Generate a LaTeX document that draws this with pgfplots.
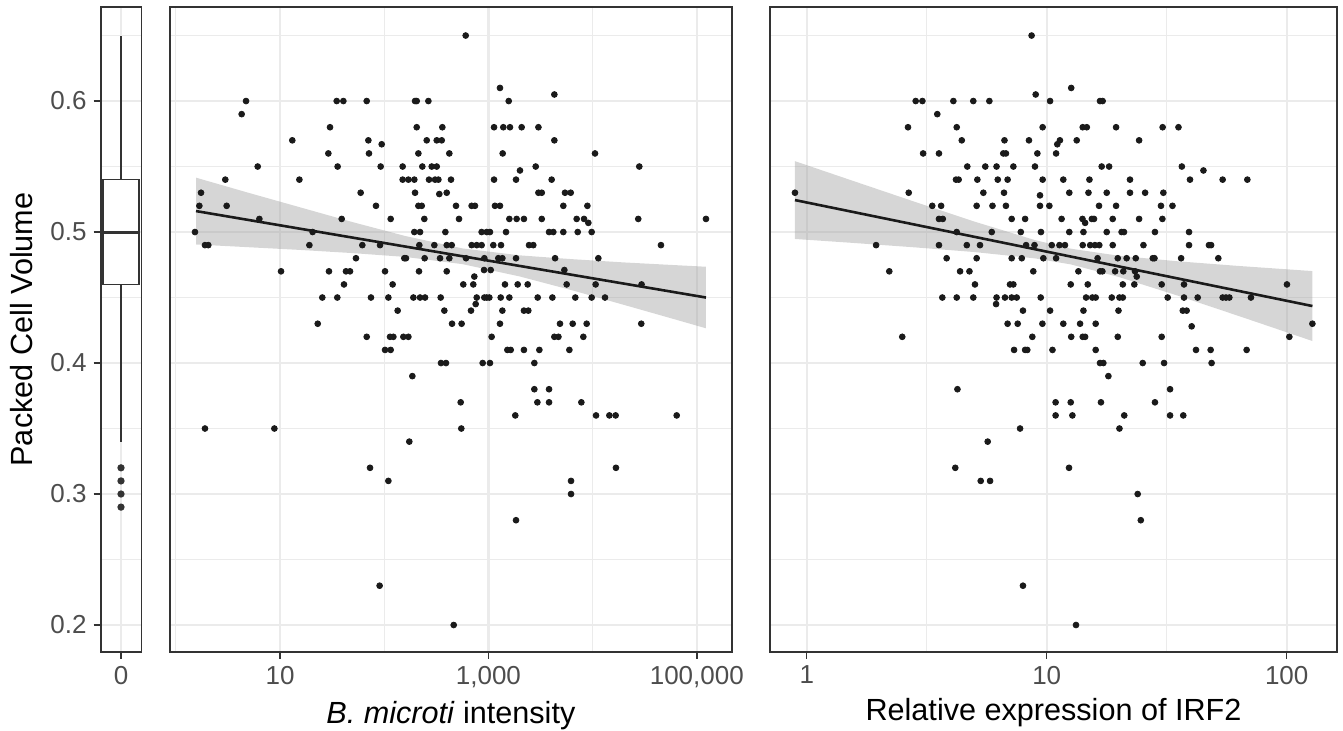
\documentclass[border=0pt]{standalone}
\usepackage{pgfplots}
\usepackage{pgfplotstable}
\usepgfplotslibrary{statistics}
\pgfplotsset{compat=1.18}
\usepackage{fontspec}
\setmainfont{Liberation Sans}

\definecolor{pt}{HTML}{1A1A1A}
\definecolor{gridc}{HTML}{EBEBEB}
\definecolor{frame}{HTML}{333333}
\definecolor{ticktxt}{HTML}{4D4D4D}

% log10(B. microti intensity), PCV
\pgfplotstableread{
x y
0.674 0.60
1.544 0.60
1.608 0.60
1.832 0.60
2.296 0.60
2.312 0.60
2.424 0.60
0.632 0.59
1.480 0.58
2.312 0.58
2.558 0.58
1.118 0.57
1.848 0.57
2.408 0.57
2.504 0.57
2.552 0.57
1.976 0.567
1.464 0.56
1.854 0.56
2.328 0.56
2.625 0.56
0.786 0.55
1.553 0.55
1.966 0.55
2.177 0.55
2.366 0.55
2.456 0.55
2.504 0.55
0.475 0.54
1.186 0.54
2.177 0.54
2.232 0.54
2.289 0.54
2.430 0.54
2.488 0.54
2.520 0.54
2.641 0.54
0.242 0.53
1.774 0.53
2.296 0.53
2.600 0.53
2.529 0.529
0.226 0.52
0.488 0.52
1.921 0.52
2.328 0.52
2.360 0.52
0.802 0.51
1.592 0.51
2.062 0.51
2.385 0.51
0.184 0.50
1.313 0.50
2.289 0.50
2.344 0.50
2.587 0.50
0.280 0.49
0.312 0.49
1.282 0.49
1.790 0.49
1.960 0.49
2.337 0.49
2.481 0.49
2.600 0.49
2.648 0.49
1.729 0.48
2.193 0.48
2.209 0.48
2.388 0.48
2.536 0.48
2.625 0.48
1.010 0.47
1.470 0.47
1.633 0.47
1.672 0.47
2.008 0.47
2.334 0.47
2.600 0.47
1.614 0.46
2.081 0.46
1.406 0.45
1.550 0.45
1.873 0.45
2.040 0.45
2.280 0.45
2.344 0.45
2.392 0.45
2.542 0.45
2.129 0.44
2.577 0.44
1.362 0.43
2.651 0.43
1.832 0.42
2.056 0.42
2.088 0.42
2.184 0.42
2.232 0.42
2.008 0.41
2.062 0.41
2.545 0.40
2.593 0.40
2.270 0.39
0.280 0.35
0.946 0.35
2.241 0.34
1.864 0.32
2.040 0.31
1.956 0.23
2.667 0.20
2.782 0.65
3.111 0.61
3.633 0.605
3.195 0.60
3.054 0.58
3.143 0.58
3.207 0.58
3.319 0.58
3.480 0.58
3.633 0.57
3.137 0.56
4.023 0.56
3.454 0.55
4.448 0.55
3.303 0.547
3.054 0.54
3.265 0.54
3.607 0.54
3.480 0.53
3.512 0.53
3.735 0.53
3.790 0.53
2.689 0.52
2.839 0.52
2.871 0.52
3.063 0.52
3.111 0.52
3.719 0.52
3.950 0.52
2.718 0.51
3.201 0.51
3.271 0.51
3.341 0.51
3.512 0.51
3.847 0.51
3.918 0.51
4.438 0.51
5.088 0.51
3.959 0.507
2.935 0.50
2.984 0.50
3.015 0.50
3.169 0.50
3.582 0.50
3.623 0.50
3.719 0.50
3.857 0.50
3.991 0.50
2.839 0.49
2.888 0.49
2.935 0.49
3.047 0.49
3.121 0.49
3.390 0.49
3.431 0.49
4.656 0.49
2.785 0.48
2.961 0.48
3.095 0.48
3.134 0.48
3.265 0.48
3.640 0.48
4.055 0.48
2.958 0.471
3.022 0.471
3.729 0.471
2.865 0.466
2.759 0.46
2.855 0.46
3.159 0.46
3.281 0.46
3.377 0.46
3.751 0.46
4.029 0.46
4.470 0.46
2.888 0.45
2.961 0.45
2.984 0.45
3.009 0.45
3.118 0.45
3.201 0.45
3.473 0.45
3.614 0.45
3.834 0.45
3.991 0.45
4.119 0.45
2.878 0.445
2.833 0.44
3.134 0.44
3.341 0.44
3.383 0.44
2.743 0.43
3.111 0.43
3.687 0.43
3.809 0.43
3.943 0.43
4.467 0.43
3.031 0.42
3.633 0.42
3.672 0.42
3.911 0.42
3.182 0.41
3.214 0.41
3.341 0.41
3.489 0.41
3.777 0.41
2.945 0.40
3.015 0.40
3.441 0.40
3.441 0.38
3.582 0.38
2.734 0.37
3.470 0.37
3.582 0.37
3.892 0.37
3.258 0.36
4.033 0.36
4.161 0.36
4.221 0.36
4.807 0.36
2.740 0.35
4.224 0.32
3.793 0.31
3.793 0.30
3.265 0.28
}\bmdata

% log10(relative expression of IRF2), PCV
\pgfplotstableread{
x y
0.937 0.65
0.954 0.605
0.454 0.60
0.482 0.60
0.611 0.60
0.694 0.60
0.761 0.60
0.544 0.59
0.422 0.58
0.625 0.58
0.983 0.58
0.646 0.57
0.824 0.57
0.926 0.57
0.485 0.56
0.551 0.56
0.819 0.56
0.830 0.56
0.961 0.56
0.669 0.55
0.744 0.55
0.791 0.55
0.861 0.55
0.951 0.55
0.622 0.54
0.633 0.54
0.711 0.54
0.796 0.54
0.837 0.54
0.983 0.54
-0.049 0.53
0.425 0.53
0.736 0.53
0.822 0.53
0.972 0.528
0.523 0.52
0.560 0.52
0.708 0.52
0.774 0.52
0.830 0.52
0.972 0.52
0.551 0.51
0.567 0.51
0.854 0.51
0.910 0.51
0.625 0.50
0.771 0.50
0.892 0.50
0.976 0.50
0.289 0.49
0.551 0.49
0.667 0.49
0.722 0.49
0.914 0.49
0.949 0.49
0.583 0.48
0.708 0.48
0.854 0.48
0.896 0.48
0.986 0.48
0.344 0.47
0.639 0.47
0.678 0.47
0.944 0.47
0.701 0.46
0.847 0.46
0.861 0.46
0.565 0.45
0.625 0.45
0.694 0.45
0.791 0.45
0.826 0.45
0.854 0.45
0.875 0.45
0.975 0.45
0.789 0.445
0.901 0.44
0.837 0.43
0.879 0.43
0.982 0.43
0.398 0.42
0.940 0.42
0.864 0.41
0.910 0.41
0.919 0.41
0.628 0.38
0.889 0.35
0.754 0.34
0.619 0.32
0.725 0.31
0.764 0.31
0.901 0.23
1.102 0.61
1.014 0.60
1.222 0.60
1.233 0.60
1.150 0.58
1.167 0.58
1.289 0.58
1.483 0.58
1.549 0.58
1.055 0.57
1.125 0.57
1.385 0.57
1.044 0.567
1.039 0.56
1.229 0.55
1.260 0.55
1.563 0.55
1.653 0.547
1.069 0.54
1.178 0.54
1.347 0.54
1.597 0.54
1.733 0.54
1.836 0.54
1.094 0.53
1.174 0.53
1.250 0.53
1.347 0.53
1.410 0.53
1.486 0.53
1.011 0.52
1.218 0.52
1.289 0.52
1.476 0.52
1.524 0.52
1.062 0.51
1.149 0.51
1.188 0.51
1.197 0.51
1.275 0.51
1.385 0.51
1.482 0.51
1.160 0.507
1.094 0.50
1.153 0.50
1.250 0.50
1.312 0.50
1.322 0.50
1.451 0.50
1.593 0.50
1.021 0.49
1.053 0.49
1.076 0.49
1.150 0.49
1.181 0.49
1.201 0.49
1.219 0.49
1.275 0.49
1.403 0.49
1.593 0.49
1.676 0.49
1.685 0.49
1.039 0.48
1.212 0.48
1.296 0.48
1.333 0.48
1.371 0.48
1.442 0.48
1.449 0.48
1.560 0.48
1.715 0.48
1.132 0.47
1.222 0.47
1.232 0.47
1.285 0.47
1.319 0.47
1.368 0.47
1.375 0.466
1.100 0.46
1.171 0.46
1.317 0.46
1.365 0.46
1.479 0.46
1.572 0.46
2.001 0.46
1.164 0.45
1.190 0.45
1.204 0.45
1.271 0.45
1.303 0.45
1.317 0.45
1.504 0.45
1.572 0.45
1.629 0.45
1.733 0.45
1.747 0.45
1.761 0.45
1.851 0.45
1.014 0.44
1.153 0.44
1.299 0.44
1.567 0.44
1.583 0.44
1.069 0.43
1.139 0.43
1.204 0.43
2.107 0.43
1.604 0.428
1.102 0.42
1.150 0.42
1.160 0.42
1.296 0.42
1.479 0.42
2.011 0.42
1.024 0.41
1.204 0.41
1.622 0.41
1.683 0.41
1.833 0.41
1.222 0.40
1.236 0.40
1.400 0.40
1.489 0.40
1.687 0.40
1.257 0.39
1.514 0.38
1.037 0.37
1.100 0.37
1.226 0.37
1.451 0.37
1.037 0.36
1.107 0.36
1.323 0.36
1.514 0.36
1.569 0.36
1.303 0.35
1.093 0.32
1.379 0.30
1.392 0.28
1.122 0.20
}\irfdata

\pgfplotsset{
  panel/.style={
    scale only axis, height=322.5pt, anchor=south west,
    ymin=0.1794, ymax=0.6718,
    axis line style={draw=frame, line width=0.8pt},
    grid=both,
    major grid style={draw=gridc, line width=1.1pt},
    minor grid style={draw=gridc, line width=0.55pt},
    ytick={0.2,0.3,0.4,0.5,0.6},
    minor ytick={0.25,0.35,0.45,0.55,0.65},
    tick align=outside,
    major tick length=3.5pt, minor tick length=0pt,
    tick style={draw=frame, line width=0.75pt},
    xtick pos=bottom, ytick pos=left,
    ticklabel style={font=\fontsize{13}{15}\selectfont, text=ticktxt},
    label style={font=\fontsize{15.3}{18}\selectfont, text=black},
  },
  dots/.style={only marks, mark=*, mark size=1.45pt, color=pt},
  ribbon/.style={fill=black!40, fill opacity=0.4, draw=none},
  fit/.style={color=pt, line width=1.3pt},
}

\begin{document}
\begin{tikzpicture}
\useasboundingbox (0,0) rectangle (671.5pt,365.5pt);

% boxplot of PCV
\begin{axis}[panel, at={(50.35pt,39.5pt)}, width=20.3pt,
  xmin=-1, xmax=1, xtick={0}, xticklabels={0}, minor xtick={},
  yticklabels={0.2,0.3,0.4,0.5,0.6},
  ylabel={Packed Cell Volume}, ylabel style={yshift=2pt},
  boxplot/draw direction=y]
\addplot[draw=frame, fill=white, line width=0.7pt,
  mark=*, mark size=1.45pt, mark options={fill=frame, draw=frame},
  boxplot prepared={lower whisker=0.34, lower quartile=0.46, median=0.5,
    upper quartile=0.54, upper whisker=0.65, draw position=0,
    box extend=1.76, whisker extend=0}]
  coordinates {(0,0.32) (0,0.31) (0,0.30) (0,0.29)};
% thicker median bar as in the figure
\addplot[draw=frame, line width=1.5pt] coordinates {(-0.88,0.5) (0.88,0.5)};
\end{axis}

% B. microti intensity
\begin{axis}[panel, at={(85pt,39.5pt)}, width=280.85pt,
  xmin=-0.0557, xmax=5.335,
  xtick={1,3,5}, xticklabels={10,{1,000},{100,000}}, minor xtick={0,2,4},
  yticklabels={}, ytick style={draw=none},
  xlabel={\textit{B. microti} intensity}]
\addplot[dots] table {\bmdata};
\addplot[ribbon] coordinates {(0.194,0.5415) (0.7,0.5299) (1.2,0.5187) (1.7,0.5075)
  (2.2,0.4970) (2.75,0.4875) (3.3,0.4822) (3.8,0.4793) (4.3,0.4768) (4.8,0.4747)
  (5.088,0.4735) (5.088,0.4265) (4.8,0.4331) (4.3,0.4444) (3.8,0.4556) (3.3,0.4661)
  (2.75,0.4755) (2.2,0.4810) (1.7,0.4839) (1.2,0.4863) (0.7,0.4884) (0.194,0.4905)};
\addplot[fit] coordinates {(0.194,0.516) (5.088,0.450)};
\end{axis}

% IRF2 expression
\begin{axis}[panel, at={(385pt,39.5pt)}, width=283.5pt,
  xmin=-0.153, xmax=2.2096,
  xtick={0,1,2}, xticklabels={1,10,100}, minor xtick={0.5,1.5},
  yticklabels={}, ytick style={draw=none},
  xlabel={Relative expression of IRF2}]
\addplot[dots] table {\irfdata};
\addplot[ribbon] coordinates {(-0.049,0.5541) (0.2,0.5386) (0.45,0.5231) (0.7,0.5079)
  (0.95,0.4939) (1.1,0.4873) (1.3,0.4819) (1.55,0.4776) (1.8,0.4741) (2.107,0.4702)
  (2.107,0.4168) (1.8,0.4359) (1.55,0.4512) (1.3,0.4657) (1.1,0.4753) (0.95,0.4799)
  (0.7,0.4847) (0.45,0.4883) (0.2,0.4916) (-0.049,0.4947)};
\addplot[fit] coordinates {(-0.049,0.5244) (2.107,0.4435)};
\end{axis}
\end{tikzpicture}
\end{document}
